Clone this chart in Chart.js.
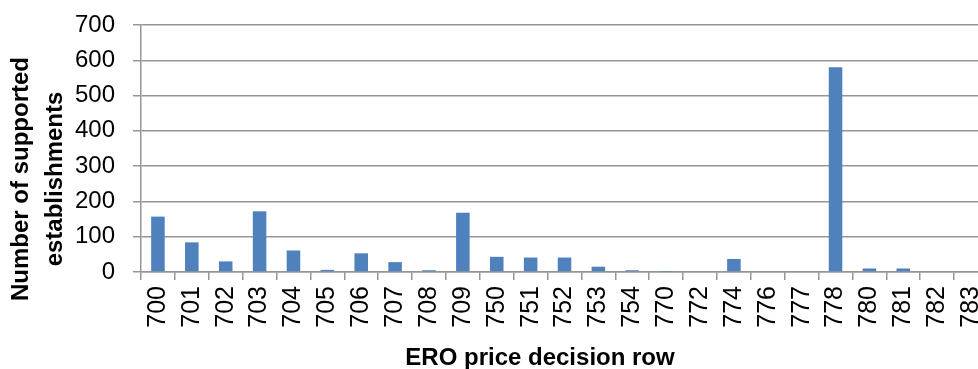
<!DOCTYPE html>
<html>
<head>
<meta charset="utf-8">
<script src="https://cdn.jsdelivr.net/npm/chart.js@4.4.1/dist/chart.umd.min.js"></script>
<style>
  html, body { margin: 0; padding: 0; background: #fff; overflow: hidden; }
  #wrap { width: 990px; height: 369px; }
</style>
</head>
<body>
<div id="wrap"><canvas id="chart" width="990" height="369"></canvas></div>
<script>
// ERO price decision rows and the number of supported establishments in each
const rows = ['700','701','702','703','704','705','706','707','708','709',
              '750','751','752','753','754','770','772','774','776','777',
              '778','780','781','782','783'];
const establishments = [157, 84, 30, 172, 61, 6, 53, 28, 5, 168,
                        43, 41, 41, 15, 5, 1, 0, 37, 0, 0,
                        580, 10, 10, 0, 0];
const yTicks = [0, 100, 200, 300, 400, 500, 600, 700];

const xTitle = 'ERO price decision row';
const yTitle = ['Number of supported', 'establishments'];

const FONT = '"Liberation Sans", Arial, Helvetica, sans-serif';
const GRID = '#969696';

// Axis titles drawn onto the canvas after the chart itself
const axisTitles = {
  id: 'axisTitles',
  afterDraw(chart) {
    const ctx = chart.ctx;
    ctx.save();
    ctx.fillStyle = '#000';
    ctx.font = 'bold 24px ' + FONT;
    ctx.textAlign = 'center';
    ctx.textBaseline = 'alphabetic';
    ctx.fillText(xTitle, 540, 365);
    ctx.translate(0, 179);
    ctx.rotate(-Math.PI / 2);
    yTitle.forEach((line, i) => ctx.fillText(line, 0, 28 + i * 34));
    ctx.restore();
  }
};

new Chart(document.getElementById('chart'), {
  type: 'bar',
  data: {
    labels: rows,
    datasets: [{
      data: establishments,
      backgroundColor: '#4f81bd',
      borderWidth: 0,
      barPercentage: 0.4,
      categoryPercentage: 1.0
    }]
  },
  options: {
    responsive: false,
    animation: false,
    devicePixelRatio: 1,
    layout: { padding: { left: 70, top: 25, right: 2, bottom: 0 } },
    plugins: {
      legend: { display: false },
      tooltip: { enabled: false }
    },
    scales: {
      x: {
        offset: true,
        grid: {
          offset: true,
          drawOnChartArea: false,
          drawTicks: true,
          tickLength: 8,
          color: GRID,
          lineWidth: 1.5
        },
        border: { color: GRID, width: 1.5 },
        ticks: {
          color: '#000',
          font: { family: FONT, size: 25 },
          minRotation: 90,
          maxRotation: 90,
          autoSkip: false,
          padding: 6
        },
        afterFit(scale) {
          scale.height = 97;
          scale.paddingLeft = 0;
          scale.paddingRight = 0;
        }
      },
      y: {
        min: 0,
        max: 700,
        afterBuildTicks(scale) { scale.ticks = yTicks.map(v => ({ value: v })); },
        grid: {
          color: GRID,
          lineWidth: 1.5,
          drawTicks: true,
          tickLength: 8
        },
        border: { color: GRID, width: 1.5 },
        ticks: {
          color: '#000',
          font: { family: FONT, size: 24 },
          padding: 18
        },
        afterFit(scale) {
          scale.width = 71;
          scale.paddingTop = 0;
          scale.paddingBottom = 0;
        }
      }
    }
  },
  plugins: [axisTitles]
});
</script>
</body>
</html>
